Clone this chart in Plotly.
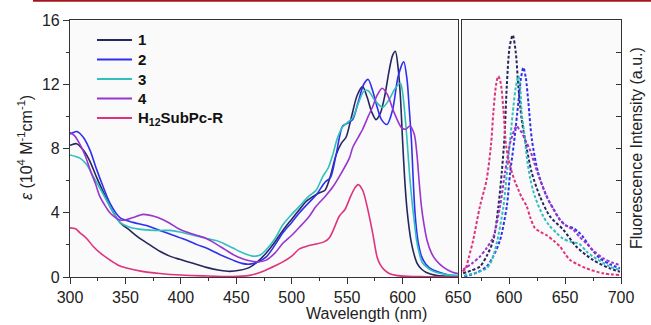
import plotly.graph_objects as go

# ---------------- Absorption data (epsilon, 10^4 M^-1 cm^-1) ----------------
abs1_x = [300, 306, 312, 318, 324, 330, 336, 345, 354, 363, 372, 381, 390, 399, 411, 423, 435, 444, 453, 462,
          470, 477, 485, 492, 500, 507, 513, 519, 525, 530, 535, 540, 545, 549, 554, 559, 564, 568, 572, 576,
          580, 584, 588, 591, 593.5, 596, 598, 600, 602, 604, 606, 607.5, 610, 613, 617, 621, 630, 650]
abs1_y = [8.2, 8.3, 7.9, 7.2, 6.2, 5.3, 4.4, 3.4, 2.9, 2.4, 2.0, 1.6, 1.3, 1.1, 0.85, 0.6, 0.42, 0.35, 0.42, 0.6,
          1.0, 1.5, 2.2, 2.9, 3.6, 4.2, 4.7, 5.0, 5.25, 5.4, 6.3, 7.6, 8.35, 8.7, 10.0, 11.3, 11.85, 11.2, 10.3, 9.8,
          10.2, 11.3, 12.9, 13.8, 14.05, 13.0, 11.3, 8.5, 6.0, 4.2, 3.0, 2.3, 1.5, 0.87, 0.5, 0.3, 0.1, 0.0]

abs2_x = [300, 303, 306, 312, 318, 324, 330, 336, 345, 357, 369, 381, 393, 405, 415, 423, 435, 447, 455, 462,
          470, 477, 485, 492, 500, 507, 515, 522, 530, 535, 540, 546, 551, 555, 560, 565, 569, 573, 577, 581,
          586, 591, 596, 601, 604, 606, 608, 609.5, 611, 612.5, 614, 617, 621, 627, 633, 642, 650]
abs2_y = [8.9, 9.0, 9.06, 8.7, 7.9, 6.7, 5.6, 4.6, 3.7, 3.4, 3.2, 2.9, 2.6, 2.3, 2.0, 1.8, 1.4, 1.05, 0.85, 0.8,
          0.95, 1.25, 2.0, 2.75, 3.4, 4.0, 4.6, 5.1, 5.9, 6.2, 7.6, 9.4, 9.6, 9.8, 10.9, 12.0, 12.3, 11.6, 10.6, 9.8,
          9.5, 10.4, 12.5, 13.4, 12.3, 10.5, 8.5, 6.2, 4.2, 3.0, 2.2, 1.3, 0.8, 0.45, 0.3, 0.12, 0.05]

abs3_x = [300, 309, 315, 321, 328, 336, 345, 354, 366, 381, 390, 399, 411, 423, 435, 447, 456, 465, 471, 477,
          485, 492, 500, 507, 515, 522, 528, 533, 537, 541, 546, 550, 555, 560, 565, 569, 575, 582, 588, 593,
          598, 600, 602, 604, 606.5, 609, 611, 612.6, 615, 618, 624, 630, 640, 650]
abs3_y = [7.6, 7.4, 7.0, 6.25, 5.4, 4.4, 3.4, 3.1, 2.95, 2.9, 2.9, 2.8, 2.6, 2.4, 2.2, 1.8, 1.5, 1.3, 1.35, 1.7,
          2.4, 3.25, 3.9, 4.4, 5.0, 5.4, 6.25, 6.8, 7.6, 8.6, 9.35, 9.6, 9.9, 10.8, 11.56, 11.6, 11.0, 10.56, 11.06, 11.7,
          12.06, 11.5, 10.2, 8.56, 6.2, 4.4, 3.2, 2.3, 1.5, 0.87, 0.5, 0.3, 0.15, 0.1]

abs4_x = [300, 304, 309, 314, 318, 323, 327, 332, 336, 341, 345, 350, 357, 366, 375, 383, 390, 398, 405, 414,
          423, 432, 440, 447, 455, 463, 471, 477, 485, 492, 500, 507, 515, 522, 530, 537, 545, 552, 555, 560,
          564, 569, 573, 577, 581.5, 586, 592.6, 599, 603, 606.5, 610.5, 613, 615, 617, 619.5, 622, 626, 630,
          637, 645, 650]
abs4_y = [9.0, 8.8, 8.25, 7.5, 6.7, 5.8, 5.0, 4.4, 4.0, 3.7, 3.55, 3.55, 3.7, 3.9, 3.8, 3.6, 3.35, 3.0, 2.8, 2.6,
          2.4, 2.05, 1.7, 1.4, 1.15, 1.0, 0.95, 1.05, 1.5, 2.1, 2.6, 3.1, 3.7, 4.4, 5.0, 5.6, 6.5, 7.4, 8.06, 8.7,
          9.2, 10.0, 10.6, 11.3, 11.75, 11.4, 10.2, 9.3, 9.2, 9.4, 8.9, 7.6, 5.9, 4.4, 3.2, 2.3, 1.5, 1.06,
          0.6, 0.3, 0.22]

abs5_x = [300, 305, 309, 315, 321, 328, 336, 343, 351, 365, 381, 400, 420, 447, 462, 470, 477, 485, 492, 500,
          507, 515, 522, 529.5, 534, 538, 543, 548, 553, 557, 560, 564, 568, 573, 577, 580, 583.5, 588, 594,
          605, 620, 650]
abs5_y = [3.06, 3.0, 2.75, 2.4, 1.9, 1.45, 1.06, 0.75, 0.56, 0.35, 0.22, 0.12, 0.07, 0.03, 0.1, 0.25, 0.44, 0.7, 0.94, 1.3,
          1.75, 1.95, 2.05, 2.2, 2.45, 3.0, 3.8, 4.2, 5.0, 5.55, 5.75, 5.4, 4.4, 2.75, 1.25, 0.75, 0.44, 0.22, 0.1,
          0.04, 0.02, 0.0]

# ---------------- Fluorescence data (a.u., same visual scale) ----------------
fl1_x = [559, 566, 574, 580, 586, 590.5, 593.5, 596, 598, 600.5, 603.3, 606, 608.3, 611.3, 614.3, 620.3, 627.7,
         636.6, 648.5, 660, 675, 690, 699]
fl1_y = [0.23, 0.4, 0.65, 1.3, 2.3, 4.4, 6.5, 8.77, 11.9, 14.3, 15.06, 14.0, 11.9, 9.8, 8.56, 6.5, 5.0,
         3.77, 2.94, 1.9, 1.06, 0.54, 0.33]

fl2_x = [560, 565, 572, 580, 586, 592, 598, 601, 604.5, 608.3, 610.5, 612.8, 615, 617.3, 620.5, 626, 633.6,
         640, 645.5, 651, 657.4, 662, 666, 673, 681, 690, 699]
fl2_y = [0.05, 0.12, 0.3, 0.65, 1.3, 2.3, 4.4, 6.5, 8.4, 10.85, 12.3, 13.04, 12.4, 10.85, 8.5, 6.5, 5.0,
         4.2, 3.56, 3.2, 3.04, 2.8, 2.5, 1.8, 1.17, 0.8, 0.54]

fl3_x = [560, 562, 570, 580, 585, 589, 595, 599.5, 601.5, 603.3, 606, 608.3, 610, 611.3, 613.5, 615.8, 619,
         623.2, 630.6, 636, 642.6, 648, 654.5, 663, 669, 675, 690, 699]
fl3_y = [0.08, 0.12, 0.25, 0.54, 1.1, 2.1, 4.4, 7.5, 8.9, 10.2, 11.8, 12.5, 11.8, 10.2, 9.0, 7.5, 6.1,
         5.0, 3.77, 3.2, 2.73, 2.4, 2.2, 2.05, 1.6, 1.27, 0.65, 0.44]

fl4_x = [559, 560.7, 567, 574, 580, 586, 592, 596.4, 601, 603, 605, 606.8, 609, 611.3, 614, 618.75, 623, 627.7,
         632, 636.6, 645.5, 651, 657.4, 663, 669, 676, 684, 692, 699]
fl4_y = [0.45, 0.54, 0.85, 1.27, 1.8, 2.5, 4.4, 6.5, 8.35, 8.8, 9.2, 9.4, 9.2, 9.0, 8.6, 7.9, 7.0, 6.06,
         5.3, 4.6, 3.56, 3.2, 2.94, 2.5, 2.1, 1.6, 1.17, 0.9, 0.75]

fl5_x = [558.5, 561, 564, 568, 574, 580, 584, 586, 588.5, 590.4, 592.5, 595, 597.5, 601, 605, 608.3, 611, 615.8,
         619, 623, 628, 633.6, 640, 645.5, 650, 654.5, 661, 669, 684, 699]
fl5_y = [0.35, 0.5, 1.2, 2.3, 4.4, 6.06, 8.3, 10.25, 12.0, 12.5, 12.1, 10.4, 8.1, 6.9, 6.0, 5.44, 5.0, 4.4,
         3.7, 3.06, 2.8, 2.6, 2.25, 1.9, 1.45, 1.06, 0.8, 0.54, 0.23, 0.12]

names = ["1", "2", "3", "4", "H<sub>12</sub>SubPc-R"]
colors = ["#26265e", "#2f2ff0", "#2fbfbd", "#9a34cf", "#e0327c"]

abs_x = [abs1_x, abs2_x, abs3_x, abs4_x, abs5_x]
abs_y = [abs1_y, abs2_y, abs3_y, abs4_y, abs5_y]
fl_x = [fl1_x, fl2_x, fl3_x, fl4_x, fl5_x]
fl_y = [fl1_y, fl2_y, fl3_y, fl4_y, fl5_y]

FONT = "Liberation Sans, Arial, sans-serif"
fig = go.Figure()

for i in range(5):
    fig.add_trace(go.Scatter(x=abs_x[i], y=abs_y[i], mode="lines", name=names[i], showlegend=False,
                             line=dict(color=colors[i], width=1.6, shape="spline", smoothing=0.8),
                             xaxis="x", yaxis="y"))
for i in range(5):
    fig.add_trace(go.Scatter(x=fl_x[i], y=fl_y[i], mode="lines", showlegend=False,
                             line=dict(color=colors[i], width=2, dash="3px,2px", shape="spline", smoothing=0.8),
                             xaxis="x2", yaxis="y2"))

axcol = "#333333"
tickfont = dict(family=FONT, size=16, color="#222222")
L, R, T, B = 70, 30, 20, 48
W = 651 - L - R
H = 325 - T - B
d1 = (458 - L) / W
d2 = (462 - L) / W


def px(xp):
    return (xp - L) / W


def py(yp):
    return (325 - B - yp) / H


fig.update_layout(
    width=651, height=325,
    margin=dict(l=L, r=R, t=T, b=B),
    paper_bgcolor="white", plot_bgcolor="#fafafa",
    font=dict(family=FONT, color="#222222"),
    showlegend=False,
    xaxis=dict(domain=[0, d1], range=[300, 650], dtick=50, tick0=300,
               showline=True, linecolor=axcol, linewidth=1.2, mirror=True,
               ticks="outside", ticklen=6, tickcolor=axcol, tickwidth=1.2,
               minor=dict(dtick=25, ticks="outside", ticklen=3, tickcolor=axcol),
               showgrid=False, zeroline=False, tickfont=tickfont, anchor="y"),
    yaxis=dict(domain=[0, 1], range=[0, 16], dtick=4,
               showline=True, linecolor=axcol, linewidth=1.2, mirror=True,
               ticks="outside", ticklen=6, tickcolor=axcol, tickwidth=1.2,
               minor=dict(dtick=2, ticks="outside", ticklen=3, tickcolor=axcol),
               showgrid=False, zeroline=False, tickfont=tickfont, anchor="x"),
    xaxis2=dict(domain=[d2, 1], range=[558, 700], tickvals=[600, 650, 700],
                showline=True, linecolor=axcol, linewidth=1.2, mirror=True,
                ticks="outside", ticklen=6, tickcolor=axcol, tickwidth=1.2,
                minor=dict(tickvals=[575, 625, 675], ticks="outside", ticklen=3, tickcolor=axcol),
                showgrid=False, zeroline=False, tickfont=tickfont, anchor="y2"),
    yaxis2=dict(domain=[0, 1], range=[0, 16], dtick=2, side="right",
                showline=True, linecolor=axcol, linewidth=1.2, mirror=True,
                ticks="inside", ticklen=5, tickcolor=axcol, tickwidth=1.2,
                showticklabels=False, showgrid=False, zeroline=False, anchor="x2"),
)

# legend (drawn as a key inside the left panel)
legend_rows = [40, 59.5, 79, 98.5, 118]
for i in range(5):
    fig.add_shape(type="line", xref="paper", yref="paper",
                  x0=px(97), x1=px(132), y0=py(legend_rows[i]), y1=py(legend_rows[i]),
                  line=dict(color=colors[i], width=2))
    fig.add_annotation(text="<b>" + names[i] + "</b>", xref="paper", yref="paper",
                       x=px(136), y=py(legend_rows[i]), xanchor="left", yanchor="middle",
                       showarrow=False, font=dict(family=FONT, size=15, color="#111111"))

fig.add_annotation(text="Wavelength (nm)", xref="paper", yref="paper",
                   x=px(366), y=py(313), xanchor="center", yanchor="middle",
                   showarrow=False, font=dict(family=FONT, size=16, color="#222222"))
fig.add_annotation(text="<i>ε</i> (10<sup>4</sup> M<sup>-1</sup>cm<sup>-1</sup>)", xref="paper", yref="paper",
                   x=px(25), y=py(148), xanchor="center", yanchor="middle", textangle=-90,
                   showarrow=False, font=dict(family=FONT, size=16, color="#222222"))
fig.add_annotation(text="Fluorescence Intensity (a.u.)", xref="paper", yref="paper",
                   x=px(636), y=py(148), xanchor="center", yanchor="middle", textangle=-90,
                   showarrow=False, font=dict(family=FONT, size=16, color="#222222"))

# decorative top rule
fig.add_shape(type="line", xref="paper", yref="paper",
              x0=px(33), x1=px(651), y0=py(0.8), y1=py(0.8),
              line=dict(color="#a3161c", width=2))

fig.write_html("out.html", config={"displayModeBar": False},
               post_script="document.body.style.margin='0';document.body.style.overflow='hidden';")
